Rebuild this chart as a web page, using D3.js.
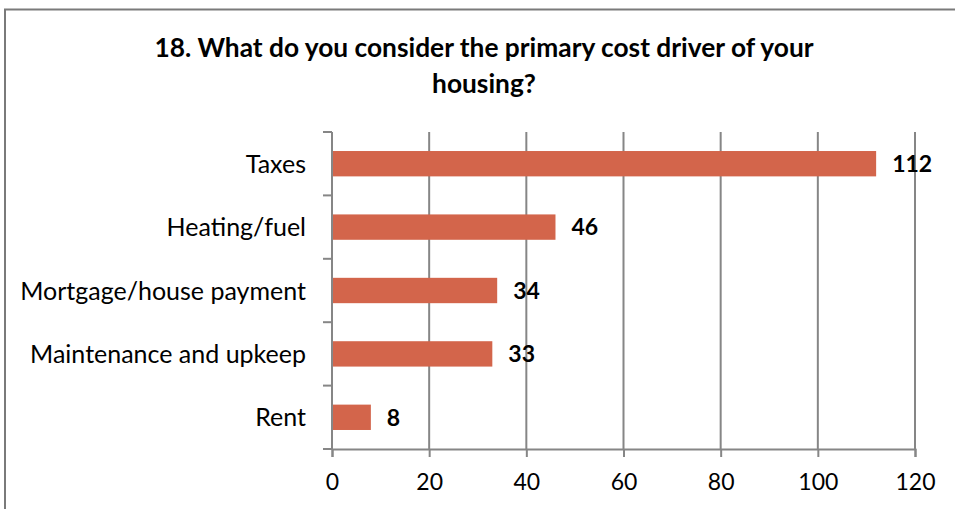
<!DOCTYPE html>
<html>
<head>
<meta charset="utf-8">
<script src="https://cdn.jsdelivr.net/npm/d3@7"></script>
<style>
  html, body { margin: 0; padding: 0; background: #ffffff; }
  svg { display: block; }
  text { font-family: Lato, "Open Sans", sans-serif; fill: #000; }
</style>
</head>
<body>
<svg id="chart" width="955" height="509"></svg>
<script>
// Survey answers: primary cost driver of housing
const categories = ["Taxes", "Heating/fuel", "Mortgage/house payment", "Maintenance and upkeep", "Rent"];
const counts = [112, 46, 34, 33, 8];
const xTicks = [0, 20, 40, 60, 80, 100, 120];
const titleLines = ["18. What do you consider the primary cost driver of your", "housing?"];

const W = 955, H = 509;
const plot = { left: 332, right: 915, top: 132, bottom: 449 };
const gridColor = "#868686";
const barColor = "#D3654B";

const svg = d3.select("#chart");

// Chart frame
svg.append("rect")
  .attr("x", 5).attr("y", 9.5)
  .attr("width", W + 10).attr("height", H + 10)
  .attr("fill", "#fff")
  .attr("stroke", "#7a7a7a")
  .attr("stroke-width", 2);

// Title
svg.append("g").selectAll("text")
  .data(titleLines)
  .join("text")
  .attr("x", 484)
  .attr("y", (d, i) => 57 + i * 36)
  .attr("text-anchor", "middle")
  .attr("font-weight", "bold")
  .attr("font-size", 26.3)
  .text(d => d);

const x = d3.scaleLinear().domain([0, 120]).range([plot.left, plot.right]);
const y = d3.scaleBand().domain(categories)
  .range([plot.top, plot.bottom])
  .paddingInner(0.6).paddingOuter(0.3);

// Vertical gridlines
svg.append("g").selectAll("line")
  .data(xTicks.slice(1))
  .join("line")
  .attr("x1", d => x(d)).attr("x2", d => x(d))
  .attr("y1", plot.top).attr("y2", plot.bottom)
  .attr("stroke", gridColor).attr("stroke-width", 2);

// Bottom axis
const xAxis = d3.axisBottom(x).tickValues(xTicks).tickSize(8).tickPadding(17).tickFormat(d3.format("d"));
const gx = svg.append("g").attr("transform", `translate(0,${plot.bottom})`).call(xAxis);
gx.select(".domain").attr("stroke", gridColor).attr("stroke-width", 2);
gx.selectAll(".tick line").attr("stroke", gridColor).attr("stroke-width", 2);
gx.selectAll(".tick text").attr("font-size", 23).attr("font-family", "Lato, sans-serif").attr("fill", "#000");

// Left axis: line plus ticks at band boundaries
const boundaries = d3.range(categories.length + 1).map(i => plot.top + i * (plot.bottom - plot.top) / categories.length);
svg.append("line")
  .attr("x1", plot.left).attr("x2", plot.left)
  .attr("y1", plot.top).attr("y2", plot.bottom)
  .attr("stroke", gridColor).attr("stroke-width", 2);
svg.append("g").selectAll("line")
  .data(boundaries)
  .join("line")
  .attr("x1", plot.left - 9).attr("x2", plot.left)
  .attr("y1", d => d).attr("y2", d => d)
  .attr("stroke", gridColor).attr("stroke-width", 2);

// Category labels
svg.append("g").selectAll("text")
  .data(categories)
  .join("text")
  .attr("x", 306)
  .attr("y", d => y(d) + y.bandwidth() / 2)
  .attr("dy", "0.36em")
  .attr("text-anchor", "end")
  .attr("font-size", 25)
  .text(d => d);

// Bars
const rows = categories.map((c, i) => ({ category: c, value: counts[i] }));
svg.append("g").selectAll("rect")
  .data(rows)
  .join("rect")
  .attr("x", x(0) + 1)
  .attr("y", d => y(d.category))
  .attr("width", d => x(d.value) - x(0) - 1)
  .attr("height", y.bandwidth())
  .attr("fill", barColor);

// Value labels
svg.append("g").selectAll("text")
  .data(rows)
  .join("text")
  .attr("x", d => x(d.value) + 16)
  .attr("y", d => y(d.category) + y.bandwidth() / 2)
  .attr("dy", "0.36em")
  .attr("font-weight", "bold")
  .attr("font-size", 23)
  .text(d => d.value);
</script>
</body>
</html>
